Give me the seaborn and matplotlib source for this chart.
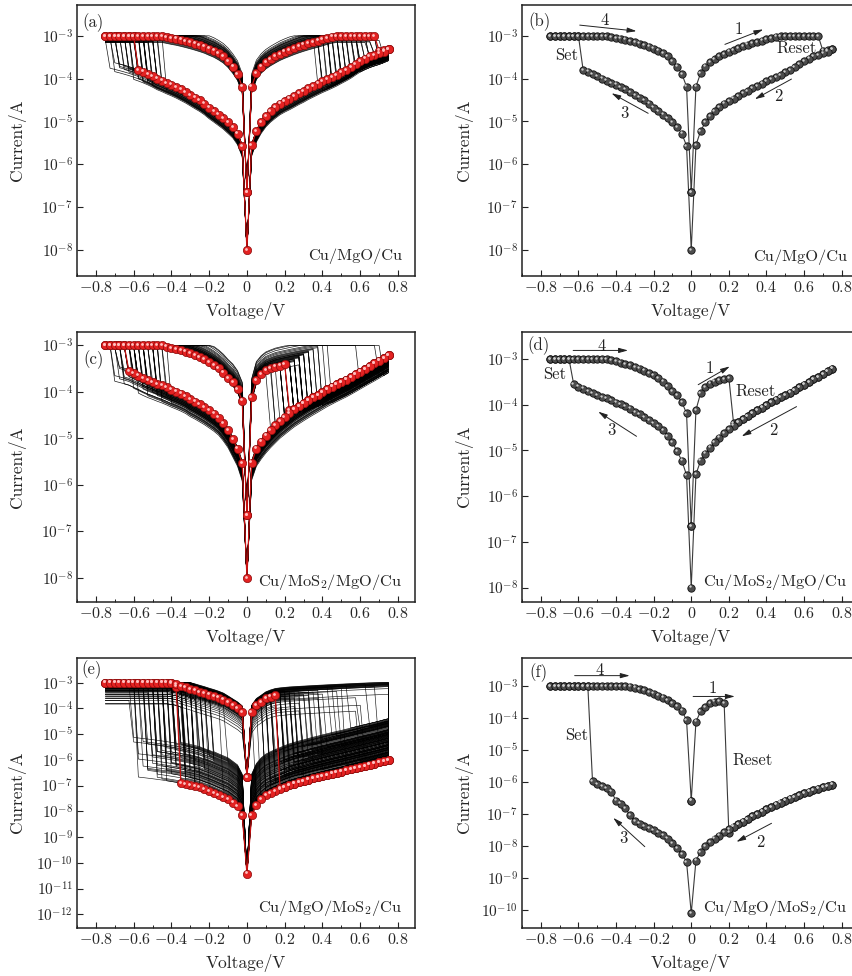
import numpy as np
import pandas as pd
import matplotlib
matplotlib.use("Agg")
import matplotlib.pyplot as plt
import matplotlib.transforms as mtransforms
from matplotlib.ticker import MultipleLocator, NullLocator, FixedLocator
import seaborn as sns

# ---------------- sweep grid (V) ----------------
V_POS = [0.025, 0.05, 0.075, 0.1, 0.125, 0.15, 0.175, 0.2, 0.225, 0.25,
         0.275, 0.3, 0.325, 0.35, 0.375, 0.4, 0.425, 0.45, 0.475, 0.5,
         0.525, 0.55, 0.575, 0.6, 0.625, 0.65, 0.675, 0.7, 0.725, 0.75]

# ---------------- Cu/MgO/Cu (panels a red, b) ----------------
B_LRS_POS = [6.5e-5, 1.35e-4, 1.9e-4, 2.4e-4, 2.85e-4, 3.3e-4, 3.8e-4, 4.25e-4, 4.7e-4, 5.2e-4,
             5.7e-4, 6.2e-4, 6.7e-4, 7.2e-4, 7.7e-4, 8.3e-4, 9.0e-4, 9.6e-4, 1e-3, 1e-3,
             1e-3, 1e-3, 1e-3, 1e-3, 1e-3, 1e-3, 1e-3, 4.5e-4, 4.6e-4, 4.8e-4]
B_HRS_POS = [2.8e-6, 6.0e-6, 9.5e-6, 1.35e-5, 1.75e-5, 2.15e-5, 2.6e-5, 3.0e-5, 3.4e-5, 3.9e-5,
             4.5e-5, 5.1e-5, 5.9e-5, 6.7e-5, 7.6e-5, 8.6e-5, 9.6e-5, 1.08e-4, 1.22e-4, 1.4e-4,
             1.6e-4, 1.85e-4, 2.2e-4, 2.6e-4, 2.95e-4, 3.3e-4, 3.6e-4, 3.9e-4, 4.3e-4, 4.8e-4]
B_HRS_NEG = [2.7e-6, 5.2e-6, 7.5e-6, 9.5e-6, 1.2e-5, 1.45e-5, 1.75e-5, 2.1e-5, 2.6e-5, 3.1e-5,
             3.6e-5, 4.2e-5, 4.9e-5, 5.6e-5, 6.4e-5, 7.2e-5, 8.0e-5, 9.0e-5, 1.0e-4, 1.15e-4,
             1.3e-4, 1.45e-4, 1.6e-4, 1e-3, 1e-3, 1e-3, 1e-3, 1e-3, 1e-3, 1e-3]
B_LRS_NEG = [6.5e-5, 1.3e-4, 1.9e-4, 2.6e-4, 3.3e-4, 3.9e-4, 4.5e-4, 5.0e-4, 5.6e-4, 6.1e-4,
             6.6e-4, 7.1e-4, 7.6e-4, 8.1e-4, 8.6e-4, 9.0e-4, 9.5e-4, 1e-3, 1e-3, 1e-3,
             1e-3, 1e-3, 1e-3, 1e-3, 1e-3, 1e-3, 1e-3, 1e-3, 1e-3, 1e-3]
B_I0 = [2.2e-7, 1.0e-8]

# ---------------- Cu/MoS2/MgO/Cu (panels c red, d) ----------------
D_HRS_POS = [3.0e-6, 6.0e-6, 8.5e-6, 1.15e-5, 1.5e-5, 1.9e-5, 2.4e-5, 2.9e-5, 3.5e-5, 4.2e-5,
             4.9e-5, 5.7e-5, 6.6e-5, 7.6e-5, 8.7e-5, 1.0e-4, 1.15e-4, 1.3e-4, 1.47e-4, 1.65e-4,
             1.85e-4, 2.1e-4, 2.4e-4, 2.75e-4, 3.15e-4, 3.6e-4, 4.1e-4, 4.7e-4, 5.4e-4, 6.2e-4]
D_LRS_PRE = [7.7e-5, 1.8e-4, 2.4e-4, 2.9e-4, 3.2e-4, 3.5e-4, 3.7e-4, 3.9e-4]
D_RESET_I = [4.0e-5]
D_HRS_NEG = [2.9e-6, 6.0e-6, 9.5e-6, 1.5e-5, 2.1e-5, 2.8e-5, 3.4e-5, 4.0e-5, 4.7e-5, 5.4e-5,
             6.2e-5, 7.0e-5, 8.2e-5, 9.2e-5, 1.02e-4, 1.12e-4, 1.25e-4, 1.38e-4, 1.5e-4, 1.65e-4,
             1.8e-4, 2.0e-4, 2.25e-4, 2.5e-4, 2.8e-4, 1e-3, 1e-3, 1e-3, 1e-3, 1e-3]
D_LRS_NEG = [6.5e-5, 1.15e-4, 1.6e-4, 2.0e-4, 2.6e-4, 3.2e-4, 3.8e-4, 4.4e-4, 5.0e-4, 5.6e-4,
             6.2e-4, 6.8e-4, 7.4e-4, 7.9e-4, 8.4e-4, 8.9e-4, 9.4e-4, 1e-3, 1e-3, 1e-3,
             1e-3, 1e-3, 1e-3, 1e-3, 1e-3, 1e-3, 1e-3, 1e-3, 1e-3, 1e-3]
D_I0 = [2.2e-7, 1.0e-8]

# ---------------- Cu/MgO/MoS2/Cu, panel e red curve ----------------
E_HRS_POS = [7e-9, 1.8e-8, 3.0e-8, 4.2e-8, 5.2e-8, 6.3e-8, 7.5e-8, 9.0e-8, 1.05e-7, 1.2e-7,
             1.35e-7, 1.5e-7, 1.7e-7, 1.9e-7, 2.1e-7, 2.35e-7, 2.6e-7, 2.9e-7, 3.2e-7, 3.5e-7,
             3.9e-7, 4.3e-7, 4.8e-7, 5.3e-7, 5.9e-7, 6.5e-7, 7.2e-7, 8.0e-7, 9.0e-7, 1.0e-6]
E_LRS_PRE = [7.4e-5, 1.35e-4, 1.8e-4, 2.45e-4, 2.9e-4, 3.3e-4]
E_RESET_I = [8e-8]
E_HRS_NEG = [7e-9, 1.6e-8, 2.2e-8, 3.0e-8, 3.6e-8, 4.3e-8, 5.2e-8, 6.2e-8, 7.2e-8, 8.5e-8,
             9.5e-8, 1.05e-7, 1.15e-7, 1.25e-7, 7e-4, 1e-3, 1e-3, 1e-3, 1e-3, 1e-3,
             1e-3, 1e-3, 1e-3, 1e-3, 1e-3, 1e-3, 1e-3, 1e-3, 1e-3, 1e-3]
E_LRS_NEG = [7e-5, 1.0e-4, 1.3e-4, 1.7e-4, 2.2e-4, 2.6e-4, 3.0e-4, 3.4e-4, 3.9e-4, 4.4e-4,
             5.0e-4, 5.8e-4, 6.6e-4, 7.5e-4, 8.8e-4, 9.5e-4, 1e-3, 1e-3, 1e-3, 1e-3,
             1e-3, 1e-3, 1e-3, 1e-3, 1e-3, 1e-3, 1e-3, 1e-3, 1e-3, 1e-3]
E_I0 = [2.2e-7, 3.8e-11]

# ---------------- Cu/MgO/MoS2/Cu, panel f ----------------
F_HRS_POS = [3.5e-9, 6.6e-9, 1.0e-8, 1.35e-8, 1.7e-8, 2.1e-8, 2.7e-8, 3.3e-8, 4.0e-8, 4.8e-8,
             5.8e-8, 7.0e-8, 8.5e-8, 1.0e-7, 1.18e-7, 1.4e-7, 1.65e-7, 1.95e-7, 2.25e-7, 2.6e-7,
             3.0e-7, 3.4e-7, 3.9e-7, 4.4e-7, 5.0e-7, 5.6e-7, 6.2e-7, 6.8e-7, 7.5e-7, 8.2e-7]
F_LRS_PRE = [7.6e-5, 1.6e-4, 2.2e-4, 2.9e-4, 3.2e-4, 3.4e-4, 2.9e-4]
F_RESET_I = [2.6e-8]
F_HRS_NEG = [3.2e-9, 5.5e-9, 8.5e-9, 1.2e-8, 1.7e-8, 2.2e-8, 2.6e-8, 3.1e-8, 3.6e-8, 4.2e-8,
             5.0e-8, 6.0e-8, 9.0e-8, 1.5e-7, 2.1e-7, 2.6e-7, 5.0e-7, 6.5e-7, 7.5e-7, 8.5e-7,
             1.05e-6, 1e-3, 1e-3, 1e-3, 1e-3, 1e-3, 1e-3, 1e-3, 1e-3, 1e-3]
F_LRS_NEG = [8.5e-5, 1.7e-4, 2.3e-4, 2.9e-4, 3.6e-4, 4.3e-4, 5.0e-4, 5.7e-4, 6.5e-4, 7.3e-4,
             8.1e-4, 8.8e-4, 9.4e-4, 1e-3, 1e-3, 1e-3, 1e-3, 1e-3, 1e-3, 1e-3,
             1e-3, 1e-3, 1e-3, 1e-3, 1e-3, 1e-3, 1e-3, 1e-3, 1e-3, 1e-3]
F_I0 = [2.6e-7, 8e-11]

# ---------------- extensions used by the many black cycles ----------------
A_HRS_NEG_EXT = [1.75e-4, 1.9e-4, 2.05e-4, 2.2e-4, 2.35e-4, 2.5e-4, 2.65e-4]
C_LRS_EXT = [4.1e-4, 4.3e-4, 4.5e-4, 4.7e-4, 4.9e-4, 5.1e-4, 5.3e-4, 5.5e-4, 5.7e-4, 5.9e-4, 6.1e-4,
             6.3e-4, 6.5e-4, 6.7e-4, 6.9e-4, 7.1e-4, 7.3e-4, 7.5e-4, 7.7e-4, 7.9e-4, 8.1e-4, 8.3e-4]
C_HRS_NEG_EXT = [3.0e-4, 3.2e-4, 3.4e-4, 3.6e-4, 3.8e-4]
E_LRS_EXT = [3.5e-4, 3.65e-4, 3.8e-4, 3.9e-4, 4.0e-4, 4.1e-4, 4.2e-4, 4.3e-4, 4.4e-4, 4.5e-4, 4.6e-4, 4.7e-4,
             4.8e-4, 4.9e-4, 5.0e-4, 5.1e-4, 5.2e-4, 5.3e-4, 5.4e-4, 5.5e-4, 5.6e-4, 5.7e-4, 5.8e-4, 5.9e-4]
E_HRS_NEG_EXT = [1.35e-7, 1.45e-7, 1.55e-7, 1.65e-7, 1.75e-7, 1.85e-7, 1.95e-7, 2.05e-7,
                 2.15e-7, 2.25e-7, 2.35e-7, 2.45e-7, 2.55e-7, 2.65e-7, 2.8e-7, 3.0e-7]

A_SET = [-0.62, -0.55, -0.70, -0.51, -0.58, -0.66, -0.49, -0.60, -0.53, -0.72,
         -0.57, -0.47, -0.64, -0.52, -0.59, -0.68, -0.50, -0.56, -0.61, -0.54,
         -0.74, -0.48, -0.63, -0.55, -0.58, -0.46, -0.65, -0.52, -0.60, -0.57,
         -0.69, -0.50, -0.54, -0.62, -0.45, -0.67, -0.53, -0.59, -0.71, -0.56]
A_RESET = [0.52, 0.45, 0.61, 0.38, 0.56, 0.49, 0.66, 0.42, 0.58, 0.47,
           0.70, 0.40, 0.54, 0.63, 0.44, 0.51, 0.68, 0.46, 0.59, 0.36,
           0.53, 0.64, 0.48, 0.57, 0.41, 0.72, 0.50, 0.60, 0.43, 0.55,
           0.65, 0.39, 0.52, 0.62, 0.47, 0.58, 0.44, 0.67, 0.50, 0.56]
A_LRS_S = [1.0, 1.3, 0.8, 1.6, 0.9, 1.2, 0.75, 1.4, 1.1, 0.85,
           1.8, 0.95, 1.25, 0.7, 1.5, 1.05, 0.9, 1.35, 1.15, 2.0,
           0.8, 1.0, 1.45, 0.88, 1.7, 0.78, 1.2, 1.1, 1.55, 0.92,
           1.3, 0.82, 1.0, 1.4, 0.95, 1.6, 1.15, 0.72, 1.25, 1.05]
A_HRS_S = [0.85, 0.7, 1.0, 0.6, 0.95, 0.8, 1.05, 0.65, 0.9, 1.0,
           0.58, 0.92, 0.75, 1.02, 0.62, 0.88, 0.8, 0.97, 0.55, 1.0,
           0.7, 0.85, 0.93, 0.64, 1.04, 0.78, 0.9, 0.68, 0.98, 0.6,
           0.82, 1.0, 0.72, 0.9, 0.66, 0.95, 0.76, 1.03, 0.62, 0.87]

C_SET = [-0.64, -0.58, -0.70, -0.52, -0.61, -0.67, -0.47, -0.55, -0.62, -0.44,
         -0.59, -0.66, -0.50, -0.57, -0.69, -0.53, -0.63, -0.46, -0.60, -0.56,
         -0.72, -0.49, -0.65, -0.54, -0.58, -0.42, -0.62, -0.51, -0.68, -0.57,
         -0.48, -0.61, -0.55, -0.66, -0.45, -0.59, -0.53, -0.64, -0.50, -0.60,
         -0.71, -0.56, -0.63, -0.47, -0.58, -0.52, -0.67, -0.54, -0.61, -0.49]
C_RESET = [0.22, 0.28, 0.18, 0.32, 0.25, 0.20, 0.36, 0.27, 0.15, 0.30,
           0.24, 0.40, 0.21, 0.29, 0.34, 0.19, 0.26, 0.45, 0.23, 0.31,
           0.68, 0.27, 0.17, 0.33, 0.25, 0.38, 0.22, 0.29, 0.14, 0.35,
           0.26, 0.42, 0.24, 0.30, 0.20, 0.72, 0.28, 0.23, 0.37, 0.26,
           0.31, 0.19, 0.27, 0.33, 0.25, 0.12, 0.29, 0.60, 0.24, 0.32]
C_LRS_S = [1.0, 1.2, 0.9, 1.4, 1.1, 0.95, 1.6, 1.05, 1.3, 0.85,
           1.15, 1.8, 1.0, 1.25, 1.5, 0.9, 1.1, 2.0, 1.05, 1.35,
           2.5, 1.2, 0.92, 1.45, 1.0, 1.7, 1.1, 1.3, 0.88, 1.55,
           1.15, 1.9, 1.0, 1.4, 0.95, 2.4, 1.25, 1.05, 1.65, 1.1,
           1.35, 0.9, 1.2, 1.5, 1.0, 0.85, 1.3, 2.2, 1.1, 1.4]
C_HRS_S = [0.9, 0.7, 1.0, 0.6, 0.85, 0.95, 0.55, 0.75, 1.05, 0.65,
           0.8, 0.5, 0.9, 0.7, 0.6, 1.0, 0.78, 0.45, 0.88, 0.66,
           0.5, 0.74, 1.02, 0.62, 0.82, 0.52, 0.92, 0.68, 1.08, 0.58,
           0.8, 0.48, 0.86, 0.64, 0.96, 0.42, 0.72, 0.9, 0.56, 0.84,
           0.66, 1.0, 0.76, 0.6, 0.88, 1.1, 0.7, 0.46, 0.82, 0.62]

E_SET = [-0.35, -0.48, -0.22, -0.56, -0.30, -0.42, -0.18, -0.52, -0.38, -0.27,
         -0.60, -0.33, -0.45, -0.24, -0.40, -0.58, -0.29, -0.36, -0.50, -0.20,
         -0.43, -0.32, -0.54, -0.26, -0.39, -0.47, -0.15, -0.34, -0.62, -0.28,
         -0.41, -0.37, -0.53, -0.23, -0.44, -0.31, -0.49, -0.36, -0.25, -0.57,
         -0.33, -0.46, -0.21, -0.39, -0.51, -0.30, -0.43, -0.35, -0.12, -0.55,
         -0.28, -0.40, -0.48, -0.34, -0.26, -0.59, -0.37, -0.44, -0.19, -0.32,
         -0.50, -0.38, -0.24, -0.46, -0.36, -0.53, -0.29, -0.41, -0.33, -0.61,
         -0.27, -0.45, -0.35, -0.22, -0.42, -0.52, -0.31, -0.38, -0.47, -0.34]
E_RESET = [0.18, 0.42, 0.09, 0.80, 0.30, 0.15, 0.55, 0.22, 0.80, 0.12,
           0.36, 0.65, 0.20, 0.80, 0.27, 0.06, 0.48, 0.80, 0.16, 0.33,
           0.80, 0.24, 0.11, 0.60, 0.19, 0.80, 0.38, 0.14, 0.29, 0.80,
           0.21, 0.45, 0.08, 0.80, 0.26, 0.17, 0.52, 0.80, 0.23, 0.13,
           0.34, 0.80, 0.19, 0.70, 0.28, 0.10, 0.80, 0.25, 0.40, 0.15,
           0.80, 0.31, 0.21, 0.58, 0.80, 0.17, 0.27, 0.12, 0.80, 0.35,
           0.22, 0.46, 0.80, 0.18, 0.05, 0.32, 0.80, 0.24, 0.62, 0.14,
           0.80, 0.20, 0.28, 0.80, 0.16, 0.38, 0.26, 0.80, 0.11, 0.23]
E_LRS_S = [1.0, 0.8, 1.3, 0.6, 1.1, 0.9, 1.5, 0.7, 1.2, 0.45,
           1.0, 1.7, 0.85, 1.4, 0.3, 1.1, 0.95, 1.6, 0.75, 1.25,
           1.8, 0.65, 1.05, 0.5, 1.35, 1.5, 0.9, 1.15, 0.2, 1.0,
           0.8, 1.45, 0.6, 1.3, 1.1, 0.35, 1.2, 1.65, 0.9, 0.7,
           1.0, 1.55, 0.85, 1.25, 0.4, 1.05, 1.75, 0.95, 0.55, 1.15,
           1.4, 0.8, 1.3, 0.15, 1.2, 1.0, 0.65, 0.9, 1.6, 0.75,
           1.1, 1.35, 1.5, 0.5, 1.0, 0.85, 1.45, 1.2, 0.25, 0.95,
           1.7, 1.05, 0.7, 1.3, 0.9, 1.15, 0.6, 1.4, 1.0, 0.8]
E_HRS_S = [3, 12, 1.5, 25, 6, 2, 40, 4, 18, 1.2,
           8, 30, 2.5, 15, 5, 1, 10, 35, 3.5, 20,
           1, 7, 2, 28, 4.5, 14, 1.8, 9, 22, 1.3,
           5.5, 32, 2.2, 16, 3, 11, 1.6, 38, 6.5, 2.8,
           13, 1.1, 24, 4, 8.5, 1.4, 19, 3.2, 27, 2.4,
           1, 7.5, 12, 1.7, 36, 5, 10, 2.6, 17, 3.8,
           1.2, 26, 6, 9.5, 1.5, 21, 4.2, 14, 2, 33,
           2.9, 11, 1.3, 23, 5.2, 7, 1.9, 30, 3.6, 15]

# annotations: (text, V, log10 I)  and arrows: (V0, logI0, V1, logI1)
ANN_B = [("4", -0.46, -2.63), ("1", 0.25, -2.85), ("Reset", 0.56, -3.29),
         ("2", 0.462, -4.42), ("3", -0.353, -4.81), ("Set", -0.663, -3.45)]
ARR_B = [(-0.593, -2.75, -0.291, -2.89), (0.179, -3.2, 0.383, -2.85),
         (0.533, -4.01, 0.338, -4.48), (-0.229, -4.81, -0.424, -4.34)]
ANN_D = [("4", -0.477, -2.71), ("1", 0.099, -3.20), ("Reset", 0.34, -3.71),
         ("2", 0.436, -4.55), ("3", -0.424, -4.55), ("Set", -0.726, -3.34)]
ARR_D = [(-0.628, -2.81, -0.336, -2.81), (0.037, -3.56, 0.205, -3.16),
         (0.56, -4.04, 0.268, -4.69), (-0.291, -4.69, -0.495, -4.15)]
ANN_F = [("4", -0.486, -2.5), ("1", 0.113, -3.09), ("Reset", 0.326, -5.31),
         ("2", 0.365, -7.87), ("3", -0.362, -7.76), ("Set", -0.61, -4.53)]
ARR_F = [(-0.62, -2.68, -0.327, -2.68), (0.01, -3.33, 0.232, -3.33),
         (0.427, -7.29, 0.24, -7.87), (-0.247, -8.02, -0.415, -7.12)]

X_TICKS = [-0.8, -0.6, -0.4, -0.2, 0.0, 0.2, 0.4, 0.6, 0.8]
X_LABELS = ["$-0.8$", "$-0.6$", "$-0.4$", "$-0.2$", "$0$", "$0.2$", "$0.4$", "$0.6$", "$0.8$"]

# ---------------- style ----------------
sns.set_style("ticks")
plt.rcParams.update({
    "font.family": "serif",
    "font.serif": ["cmr10", "DejaVu Serif"],
    "mathtext.fontset": "cm",
    "axes.formatter.use_mathtext": True,
    "axes.unicode_minus": False,
    "axes.edgecolor": "#222222",
    "axes.linewidth": 1.1,
})

VP = np.asarray(V_POS)
VN = -VP


def sweep_xy(b1, b2, b3, b4, i0):
    v = np.concatenate([[0.0], VP, VP[::-1], [0.0], VN, VN[::-1], [0.0]])
    i = np.concatenate([[i0[0]], b1, np.asarray(b2)[::-1], [i0[1]],
                        b3, np.asarray(b4)[::-1], [i0[0]]])
    return v, i


def black_cycles(tpl, i0, sets, resets, ls, hs):
    lp, hp, hn, ln = (np.asarray(t, dtype=float) for t in tpl)
    frames = []
    for k, (vs, vr, sl, sh) in enumerate(zip(sets, resets, ls, hs)):
        lrs_p = np.minimum(lp * sl, 1e-3)
        lrs_n = np.minimum(ln * sl, 1e-3)
        b1 = np.where(VP < vr, lrs_p, hp * sh)
        b3 = np.where(VN > vs, hn * sh, lrs_n)
        v, i = sweep_xy(b1, hp * sh, b3, lrs_n, i0)
        frames.append(pd.DataFrame({"V": v, "I": i, "cycle": k}))
    return pd.concat(frames, ignore_index=True)


W, H = 853.0, 976.0
fig = plt.figure(figsize=(W / 100, H / 100), dpi=100)


def make_ax(l, t, r, b):
    return fig.add_axes([l / W, 1 - b / H, (r - l) / W, (b - t) / H])


axes = {
    "a": make_ax(77, 5, 415, 276),
    "b": make_ax(522, 5, 858.6, 276),
    "c": make_ax(77, 332, 415, 602),
    "d": make_ax(522, 331.7, 858.6, 601.7),
    "e": make_ax(77, 657.7, 415, 927.7),
    "f": make_ax(522, 657.7, 858.6, 927.7),
}
YLIM = {"a": (-8.61, -2.28), "b": (-8.61, -2.28), "c": (-8.52, -2.71),
        "d": (-8.31, -2.40), "e": (-12.52, -2.03), "f": (-10.55, -2.12)}
YDEC = {"a": range(-8, -2), "b": range(-8, -2), "c": range(-8, -2),
        "d": range(-8, -2), "e": range(-12, -2), "f": range(-10, -2)}
PLAB = {"a": (0.047, 0.935), "b": (0.051, 0.94), "c": (0.048, 0.896),
        "d": (0.048, 0.947), "e": (0.043, 0.954), "f": (0.048, 0.943)}
DEV = {"a": ("Cu/MgO/Cu", 0.961, 0.074), "b": ("Cu/MgO/Cu", 0.965, 0.071),
       "c": ("Cu/MoS$_2$/MgO/Cu", 0.961, 0.075), "d": ("Cu/MoS$_2$/MgO/Cu", 0.965, 0.074),
       "e": ("Cu/MgO/MoS$_2$/Cu", 0.961, 0.072), "f": ("Cu/MgO/MoS$_2$/Cu", 0.965, 0.072)}

for key, ax in axes.items():
    ax.set_yscale("log")
    ax.set_xlim(-0.9, 0.89)
    ax.set_ylim(10.0 ** YLIM[key][0], 10.0 ** YLIM[key][1])

# ---- data for each panel ----
B1 = B_LRS_POS
D1 = D_LRS_PRE + D_RESET_I + D_HRS_POS[9:]
E1 = E_LRS_PRE + E_RESET_I + E_HRS_POS[7:]
F1 = F_LRS_PRE + F_RESET_I + F_HRS_POS[8:]

RED = {"a": (B1, B_HRS_POS, B_HRS_NEG, B_LRS_NEG, B_I0),
       "c": (D1, D_HRS_POS, D_HRS_NEG, D_LRS_NEG, D_I0),
       "e": (E1, E_HRS_POS, E_HRS_NEG, E_LRS_NEG, E_I0)}
GRAY = {"b": (B1, B_HRS_POS, B_HRS_NEG, B_LRS_NEG, B_I0),
        "d": (D1, D_HRS_POS, D_HRS_NEG, D_LRS_NEG, D_I0),
        "f": (F1, F_HRS_POS, F_HRS_NEG, F_LRS_NEG, F_I0)}

TPL = {
    "a": (B_LRS_POS[:27] + [1e-3, 1e-3, 1e-3], B_HRS_POS, B_HRS_NEG[:23] + A_HRS_NEG_EXT, B_LRS_NEG),
    "c": (D_LRS_PRE + C_LRS_EXT, D_HRS_POS, D_HRS_NEG[:25] + C_HRS_NEG_EXT, D_LRS_NEG),
    "e": (E_LRS_PRE + E_LRS_EXT, E_HRS_POS, E_HRS_NEG[:14] + E_HRS_NEG_EXT, E_LRS_NEG),
}
PARAMS = {"a": (B_I0, A_SET, A_RESET, A_LRS_S, A_HRS_S),
          "c": (D_I0, C_SET, C_RESET, C_LRS_S, C_HRS_S),
          "e": (E_I0, E_SET, E_RESET, E_LRS_S, E_HRS_S)}
LW_BLACK = {"a": 0.5, "c": 0.5, "e": 0.45}

hl = mtransforms.ScaledTranslation(-0.9 / 72, 0.9 / 72, fig.dpi_scale_trans)

for key in ["a", "c", "e"]:
    ax = axes[key]
    i0, s, r, ls, hs = PARAMS[key]
    df = black_cycles(TPL[key], i0, s, r, ls, hs)
    sns.lineplot(data=df, x="V", y="I", units="cycle", estimator=None, sort=False,
                 color="black", linewidth=LW_BLACK[key], alpha=0.9, ax=ax, legend=False)
    b1, b2, b3, b4, i0r = RED[key]
    v, i = sweep_xy(np.asarray(b1), b2, np.asarray(b3), b4, i0r)
    sns.lineplot(x=v, y=i, sort=False, estimator=None, color="#c81010", linewidth=0.9, ax=ax)
    sns.scatterplot(x=v, y=i, s=36, color="#e32222", edgecolor="#8a0a0a", linewidth=0.5,
                    ax=ax, zorder=5, legend=False)
    ax.plot(v, i, "o", ms=2.0, color="#ffc0c0", mec="none", ls="none",
            transform=ax.transData + hl, zorder=6)

for key in ["b", "d", "f"]:
    ax = axes[key]
    b1, b2, b3, b4, i0r = GRAY[key]
    v, i = sweep_xy(np.asarray(b1), b2, np.asarray(b3), b4, i0r)
    sns.lineplot(x=v, y=i, sort=False, estimator=None, color="#3a3a3a", linewidth=0.8, ax=ax)
    sns.scatterplot(x=v, y=i, s=28, color="#4d4d4d", edgecolor="#111111", linewidth=0.6,
                    ax=ax, zorder=5, legend=False)
    ax.plot(v, i, "o", ms=1.7, color="#cfcfcf", mec="none", ls="none",
            transform=ax.transData + hl, zorder=6)

ANNS = {"b": (ANN_B, ARR_B), "d": (ANN_D, ARR_D), "f": (ANN_F, ARR_F)}
for key, (anns, arrs) in ANNS.items():
    ax = axes[key]
    for txt, x, ly in anns:
        ax.text(x, 10.0 ** ly, txt, ha="center", va="center", fontsize=12,
                color="#222222", zorder=8)
    for x0, y0, x1, y1 in arrs:
        ax.annotate("", xy=(x1, 10.0 ** y1), xytext=(x0, 10.0 ** y0),
                    arrowprops=dict(arrowstyle="-|>,head_length=0.55,head_width=0.15",
                                    color="#222222", lw=0.7, shrinkA=0, shrinkB=0),
                    zorder=8)

for key, ax in axes.items():
    ax.set_xticks(X_TICKS)
    ax.set_xticklabels(X_LABELS, fontsize=11.5)
    ax.xaxis.set_minor_locator(MultipleLocator(0.1))
    decs = list(YDEC[key])
    ax.yaxis.set_major_locator(FixedLocator([10.0 ** e for e in decs]))
    ax.set_yticklabels(["$10^{%d}$" % e for e in decs], fontsize=11)
    ax.yaxis.set_minor_locator(NullLocator())
    ax.tick_params(which="both", direction="in", top=False, right=False, color="#222222")
    ax.tick_params(which="major", length=4, width=0.8, pad=3)
    ax.tick_params(which="minor", length=2.5, width=0.7)
    ax.set_xlabel("Voltage/V", fontsize=12.5)
    ax.set_ylabel("Current/A", fontsize=12.5)
    ax.xaxis.set_label_coords(0.5, -0.097)
    ax.yaxis.set_label_coords(-0.151 if key in "ace" else -0.146, 0.5)
    px, py = PLAB[key]
    ax.text(px, py, "(%s)" % key, transform=ax.transAxes, ha="center", va="center",
            fontsize=12, zorder=9)
    dtxt, dx, dy = DEV[key]
    ax.text(dx, dy, dtxt, transform=ax.transAxes, ha="right", va="center",
            fontsize=11.8, zorder=9)
    for sp in ax.spines.values():
        sp.set_visible(True)

fig.savefig("out.png", dpi=100, facecolor="white")
